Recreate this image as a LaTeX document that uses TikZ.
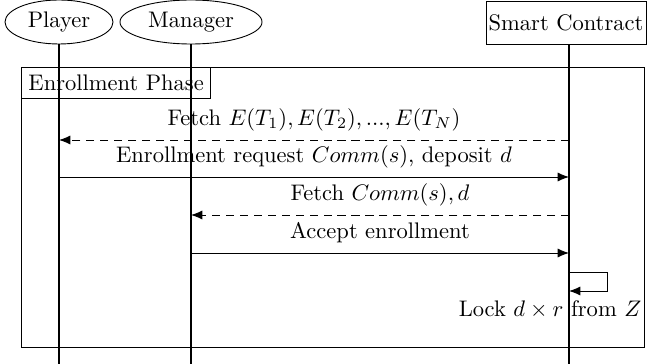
\documentclass[tikz,border=0pt]{standalone}
\usetikzlibrary{shapes.geometric,arrows.meta}
\newcommand\pxu{0.444pt}
\tikzset{
  actor/.style={draw, ellipse, inner sep=0pt, minimum height={44*\pxu}},
  actorbox/.style={draw, rectangle, inner sep=0pt, minimum height={43*\pxu}},
  lifeline/.style={line width=0.9pt},
  msg/.style={-{Latex[length=5pt,width=4pt]}, thin},
  reply/.style={msg, dash pattern=on 3.6pt off 2.6pt},
  lbl/.style={inner sep=0pt, anchor=base},
  framebox/.style={draw, thin},
}
\begin{document}
\begin{tikzpicture}[x=\pxu, y=-\pxu]
  \useasboundingbox (0,0) rectangle (648,364);

  % participants
  \node[actor, minimum width={108*\pxu}] (player) at (59,22) {Player};
  \node[actor, minimum width={142*\pxu}] (manager) at (191,22) {Manager};
  \node[actorbox, minimum width={160*\pxu}] (sc) at (566,22.5) {Smart Contract};

  \coordinate (pl) at (59,0);
  \coordinate (ml) at (191,0);
  \coordinate (sl) at (569,0);
  \coordinate (bottom) at (0,364);

  % lifelines
  \draw[lifeline] (player.south) -- (pl |- bottom);
  \draw[lifeline] (manager.south) -- (ml |- bottom);
  \draw[lifeline] (sl |- sc.south) -- (sl |- bottom);

  % enrollment phase frame
  \coordinate (fnw) at (21,67);
  \coordinate (fse) at (644,347);
  \draw[framebox] (fnw) rectangle (fse);
  \node[draw, thin, anchor=north west, minimum height={31*\pxu}, inner xsep={7*\pxu}] (phase) at (fnw) {Enrollment Phase};

  % messages
  \coordinate (y1) at (0,140);
  \coordinate (y2) at (0,177);
  \coordinate (y3) at (0,215);
  \coordinate (y4) at (0,253);

  \draw[reply] (sl |- y1) -- (pl |- y1)
    node[lbl, midway, yshift=6.5pt] (m1) {Fetch $E(T_1), E(T_2), ..., E(T_N)$};
  \draw[msg] (pl |- y2) -- (sl |- y2)
    node[lbl, midway, yshift=6.5pt] (m2) {Enrollment request $Comm(s)$, deposit $d$};
  \draw[reply] (sl |- y3) -- (ml |- y3)
    node[lbl, midway, yshift=6.5pt] (m3) {Fetch $Comm(s), d$};
  \draw[msg] (ml |- y4) -- (sl |- y4)
    node[lbl, midway, yshift=6.5pt] (m4) {Accept enrollment};

  % self call on the contract
  \coordinate (s1) at (569,272);
  \coordinate (s2) at (607,272);
  \coordinate (s3) at (607,291);
  \coordinate (s4) at (569,291);
  \draw[msg] (s1) -- (s2) -- (s3) -- (s4);
  \node[lbl] (lock) at (550,317) {Lock $d \times r$ from $Z$};
\end{tikzpicture}
\end{document}
